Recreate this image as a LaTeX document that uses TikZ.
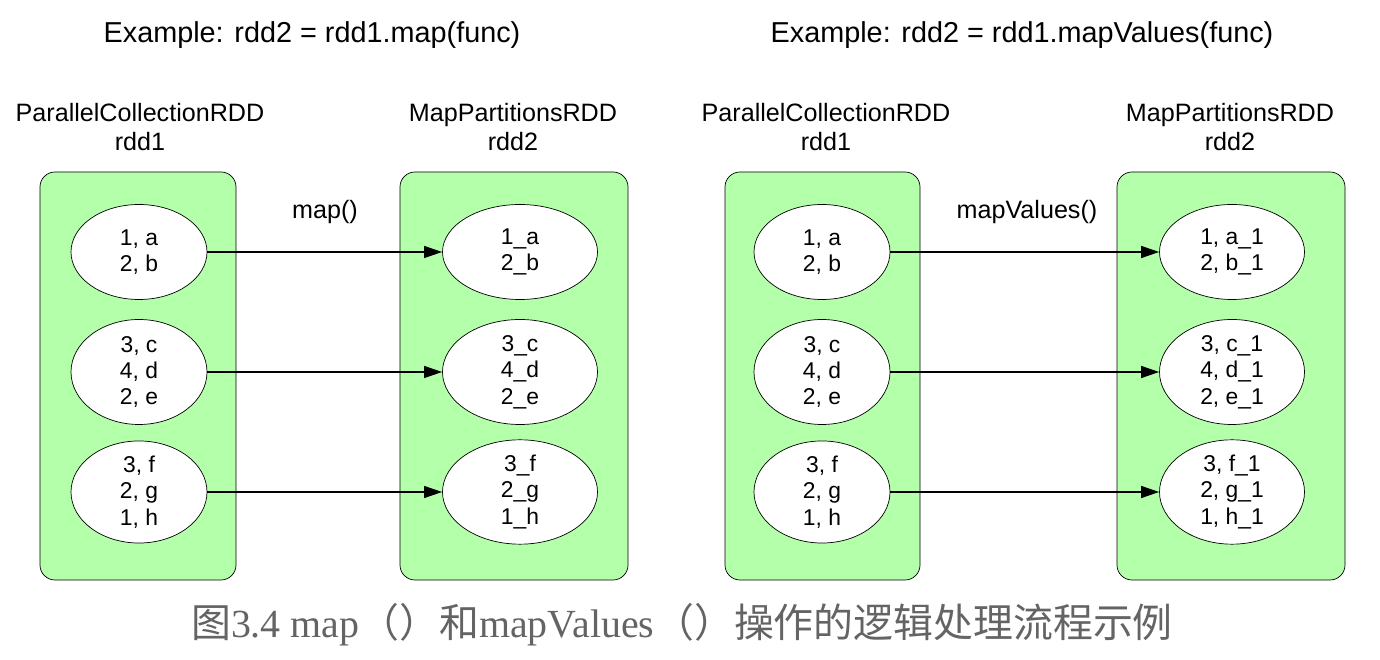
\documentclass[tikz,border=0pt]{standalone}
\usepackage{fontspec}
\setmainfont{Liberation Sans}
\newfontfamily\cjk{Noto Sans CJK SC}
\newfontfamily\capserif{Liberation Serif}
\usepackage{xcolor}
\usepackage{tikz}
\usetikzlibrary{shapes.geometric, positioning, arrows.meta}

\definecolor{rddgreen}{RGB}{180,255,170}
\definecolor{capgray}{RGB}{100,100,100}

\tikzset{
    rddbox/.style={draw, fill=rddgreen, rounded corners=0.3cm, minimum width=#1, minimum height=8.16cm},
    part/.style={ellipse, draw, fill=white, inner sep=0pt, align=center, font=\fontsize{13}{15}\selectfont},
    head/.style={align=center, font=\fontsize{14.3}{16.5}\selectfont},
    flow/.style={-{Triangle[length=0.36cm, width=0.24cm]}, semithick},
}

\begin{document}
\begin{tikzpicture}
                \useasboundingbox (0, 0) rectangle (27.6, 13.2);
                \node[rddbox=3.92cm] (b1) at (2.76, 5.68) {};
                \node[rddbox=4.56cm] (b2) at (10.28, 5.68) {};
                \node[rddbox=3.9cm] (b3) at (16.45, 5.68) {};
                \node[rddbox=4.56cm] (b4) at (24.62, 5.68) {};

                \node[font=\fontsize{16.4}{19}\selectfont] (t1) at (6.24, 12.5) {Example: rdd2 = rdd1.map(func)};
                \node[font=\fontsize{16.4}{19}\selectfont] (t2) at (20.44, 12.5) {Example: rdd2 = rdd1.mapValues(func)};

                \node[head] (h1) at (2.8, 10.66) {ParallelCollectionRDD\\rdd1};
                \node[head] (h2) at (10.26, 10.66) {MapPartitionsRDD\\rdd2};
                \node[head] (h3) at (16.52, 10.66) {ParallelCollectionRDD\\rdd1};
                \node[head] (h4) at (24.6, 10.66) {MapPartitionsRDD\\rdd2};

                % map()
                \node[part, minimum width=2.72cm, minimum height=1.9cm] (p1) at (2.78, 8.16) {1, a\\2, b};
                \node[part, minimum width=2.72cm, minimum height=2.1cm] (p2) at (2.78, 5.76) {3, c\\4, d\\2, e};
                \node[part, minimum width=2.72cm, minimum height=1.9cm] (p3) at (2.78, 3.36) {3, f\\2, g\\1, h};
                \node[part, minimum width=3.1cm, minimum height=1.9cm] (q1) at (10.4, 8.16) {1\_a\\2\_b};
                \node[part, minimum width=3.1cm, minimum height=2.1cm] (q2) at (10.4, 5.76) {3\_c\\4\_d\\2\_e};
                \node[part, minimum width=3.1cm, minimum height=1.9cm] (q3) at (10.4, 3.36) {3\_f\\2\_g\\1\_h};

                % mapValues()
                \node[part, minimum width=2.72cm, minimum height=1.9cm] (r1) at (16.44, 8.16) {1, a\\2, b};
                \node[part, minimum width=2.72cm, minimum height=2.1cm] (r2) at (16.44, 5.76) {3, c\\4, d\\2, e};
                \node[part, minimum width=2.72cm, minimum height=1.9cm] (r3) at (16.44, 3.36) {3, f\\2, g\\1, h};
                \node[part, minimum width=2.9cm, minimum height=1.9cm] (s1) at (24.64, 8.16) {1, a\_1\\2, b\_1};
                \node[part, minimum width=2.9cm, minimum height=2.1cm] (s2) at (24.64, 5.76) {3, c\_1\\4, d\_1\\2, e\_1};
                \node[part, minimum width=2.9cm, minimum height=1.9cm] (s3) at (24.64, 3.36) {3, f\_1\\2, g\_1\\1, h\_1};

                \node[head] (l1) at (6.5, 8.96) {map()};
                \node[head] (l2) at (20.54, 8.96) {mapValues()};

                \draw[flow] (p1) -- (q1);
                \draw[flow] (p2) -- (q2);
                \draw[flow] (p3) -- (q3);
                \draw[flow] (r1) -- (s1);
                \draw[flow] (r2) -- (s2);
                \draw[flow] (r3) -- (s3);

                \node[text=capgray, font=\fontsize{22.7}{26}\selectfont] (cap) at (13.64, 0.7)
                    {{\cjk 图}{\capserif 3.4 map}{\cjk （）和}{\capserif mapValues}{\cjk （）操作的逻辑处理流程示例}};
            \end{tikzpicture}
\end{document}
